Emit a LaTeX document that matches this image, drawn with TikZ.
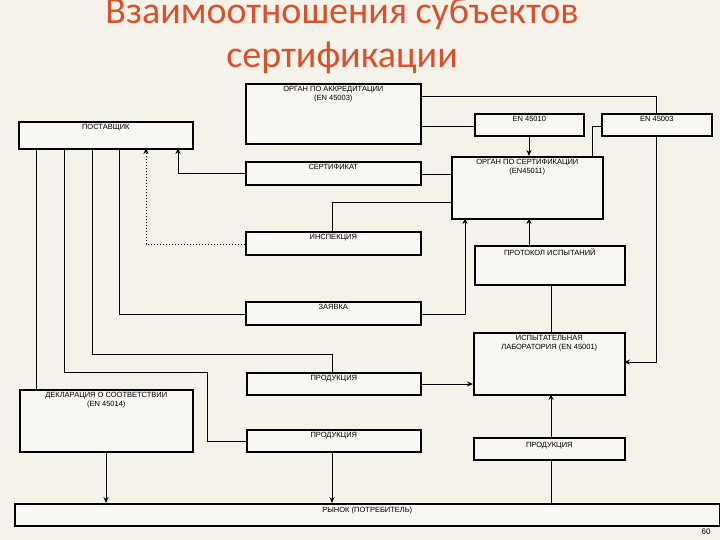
\documentclass[tikz,border=0pt]{standalone}
\usepackage{fontspec}
\setmainfont{Liberation Sans}
\newfontfamily\titlefont{Carlito}
\usetikzlibrary{arrows.meta}
\definecolor{bgc}{HTML}{F5F2EA}
\definecolor{boxfill}{HTML}{F8F7F2}
\definecolor{titlec}{HTML}{D9502C}
\begin{document}
\begin{tikzpicture}[x=1pt,y=-1pt,
  box/.style={draw=black,line width=1.6pt,fill=boxfill,anchor=north west,inner sep=0pt},
  lab/.style={font=\fontsize{7.5}{8.5}\selectfont,align=center,anchor=north,inner sep=1pt,yshift=-2.5pt},
  conn/.style={line width=0.7pt},
  arr/.style={line width=1pt,-{Stealth[length=6pt,width=5pt]}}]
\fill[bgc] (0,0) rectangle (720,540);
\useasboundingbox (0,0) rectangle (720,540);
\node[font=\titlefont\fontsize{38}{44}\selectfont,text=titlec,align=center] (title) at (342,36) {Взаимоотношения субъектов\\сертификации};
% connectors behind boxes
\coordinate (c1) at (656,96);
\draw[conn] (420,96) -- (c1);
\draw[arr] (c1) -- (656,362) -- (624,362);
\draw[conn] (420,126) -- (474,126);
\draw[arr] (529,135) -- (529,156);
\draw[conn] (601,126) -- (592,126) -- (592,156);
\draw[conn] (420,174) -- (451,174);
\draw[arr] (245,174) -- (178,174) -- (178,148);
\draw[arr,dotted] (245,244) -- (146,244) -- (146,148);
\draw[conn] (332,231) -- (332,202) -- (451,202);
\draw[conn] (245,314) -- (119,314) -- (119,148);
\draw[arr] (420,314) -- (465,314) -- (465,218);
\draw[arr] (529,245) -- (529,218);
\draw[conn] (551,284) -- (551,332);
\draw[conn] (36,148) -- (36,389);
\draw[conn] (92,148) -- (92,354) -- (332,354) -- (332,372);
\draw[conn] (64,148) -- (64,372) -- (207,372) -- (207,441) -- (246,441);
\draw[arr] (420,384) -- (473,384);
\draw[arr] (551,503) -- (551,394);
\draw[arr] (106,451) -- (106,503);
\draw[arr] (332,451) -- (332,503);
% boxes
\node[box,minimum width=175,minimum height=60] (acc) at (245,83) {};
\node[lab] at (acc.north) {ОРГАН ПО АККРЕДИТАЦИИ\\(EN 45003)};
\node[box,minimum width=174,minimum height=27] (sup) at (18,121) {};
\node[lab] at (sup.north) {ПОСТАВЩИК};
\node[box,minimum width=109,minimum height=22] (en1) at (474,113) {};
\node[lab] at (en1.north) {EN 45010};
\node[box,minimum width=110,minimum height=22] (en2) at (601,113) {};
\node[lab] at (en2.north) {EN 45003};
\node[box,minimum width=175,minimum height=23] (cert) at (245,161) {};
\node[lab] at (cert.north) {СЕРТИФИКАТ};
\node[box,minimum width=151,minimum height=62] (org) at (451,156) {};
\node[lab] at (org.north) {ОРГАН ПО СЕРТИФИКАЦИИ\\(EN45011)};
\node[box,minimum width=175,minimum height=23] (insp) at (245,231) {};
\node[lab] at (insp.north) {ИНСПЕКЦИЯ};
\node[box,minimum width=150,minimum height=39] (prot) at (474,245) {};
\node[lab] at (prot.north) {ПРОТОКОЛ ИСПЫТАНИЙ};
\node[box,minimum width=175,minimum height=23] (zay) at (245,301) {};
\node[lab] at (zay.north) {ЗАЯВКА};
\node[box,minimum width=151,minimum height=62] (labr) at (473,332) {};
\node[lab] at (labr.north) {ИСПЫТАТЕЛЬНАЯ\\ЛАБОРАТОРИЯ (EN 45001)};
\node[box,minimum width=174,minimum height=22] (pr1) at (246,372) {};
\node[lab] at (pr1.north) {ПРОДУКЦИЯ};
\node[box,minimum width=173,minimum height=62] (decl) at (19,389) {};
\node[lab] at (decl.north) {ДЕКЛАРАЦИЯ О СООТВЕТСТВИИ\\(EN 45014)};
\node[box,minimum width=174,minimum height=22] (pr2) at (246,429) {};
\node[lab] at (pr2.north) {ПРОДУКЦИЯ};
\node[box,minimum width=151,minimum height=22] (pr3) at (473,437) {};
\node[lab,yshift=-1.5pt] at (pr3.north) {ПРОДУКЦИЯ};
\node[box,minimum width=705,minimum height=22] (mkt) at (14,503) {};
\node[lab] at (mkt.north) {РЫНОК (ПОТРЕБИТЕЛЬ)};
\node[font=\fontsize{8}{9}\selectfont] (pg) at (706,532) {60};
\end{tikzpicture}
\end{document}
